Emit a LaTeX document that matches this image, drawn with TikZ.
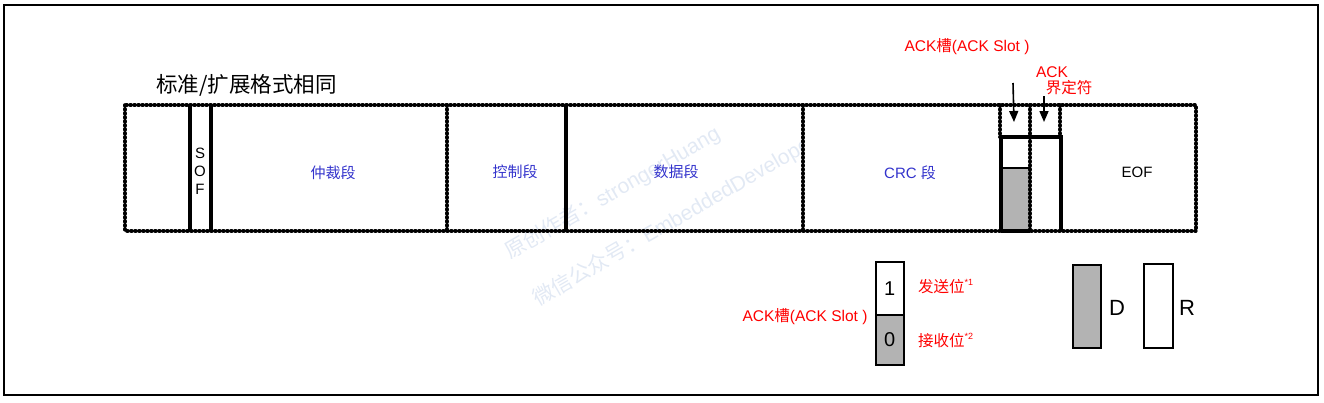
\documentclass[tikz,border=0pt]{standalone}
\usepackage{fontspec}
\setmainfont{Liberation Sans}
\newfontfamily\cjk{Noto Sans CJK SC}
\usetikzlibrary{arrows.meta}
\definecolor{lblblue}{RGB}{51,51,204}
\definecolor{ackgray}{RGB}{179,179,179}
\definecolor{wmark}{RGB}{226,233,244}
\begin{document}
\begin{tikzpicture}[x=1pt,y=-1pt,
  dotline/.style={line width=3.6pt, dash pattern=on 0.8pt off 3.2pt, line cap=round},
  solidbar/.style={line width=3.5pt},
  ackbar/.style={line width=4pt},
  fieldlbl/.style={inner sep=0pt, text=lblblue, font=\fontsize{15}{18}\selectfont},
  blacklbl/.style={inner sep=0pt, text=black, font=\fontsize{15}{18}\selectfont},
  redlbl/.style={inner sep=0pt, text=red, font=\fontsize{15.5}{18}\selectfont},
  wmtext/.style={inner sep=0pt, text=wmark, font=\fontsize{21}{24}\selectfont, rotate=30, anchor=base west},
  legbox/.style={draw=black, line width=1.5pt},
  arr/.style={line width=1.6pt, -{Triangle[length=11pt,width=9pt]}}
]
\useasboundingbox (0,0) rectangle (1324,402);
% outer frame
\draw[line width=1.8pt] (4,5) rectangle (1318,395);

% watermark
\node[wmtext] (wm1) at (510,260) {{\cjk 原创作者：}strongerHuang};
\node[wmtext] (wm2) at (538,307) {{\cjk 微信公众号：}EmbeddedDeveloper};
\fill[white] (803,105) rectangle (1000,231);

% ACK slot fill
\fill[ackgray] (1001,168) rectangle (1030,231);
\draw[line width=1.2pt] (1001,168) -- (1030,168);

% dotted frame
\draw[dotline] (125,105) rectangle (1196,231);
\draw[dotline] (447,105) -- (447,231);
\draw[dotline] (803,105) -- (803,231);
\draw[dotline] (1000,105) -- (1000,137);
\draw[dotline] (1030,105) -- (1030,231);
\draw[dotline] (1060,105) -- (1060,137);

% solid bars
\draw[solidbar] (190,105) -- (190,231);
\draw[solidbar] (211,105) -- (211,231);
\draw[solidbar] (566,105) -- (566,231);

% ACK thick box
\draw[ackbar] (1001,231) -- (1001,137) -- (1061,137) -- (1061,231);
\draw[ackbar] (1001,231) -- (1030,231);

% title
\node[inner sep=0pt, anchor=west, font=\cjk\fontsize{21.5}{24}\selectfont] (title) at (156,85) {标准/扩展格式相同};

% SOF
\node[blacklbl] (sofS) at (200,153) {S};
\node[blacklbl] (sofO) at (200,171) {O};
\node[blacklbl] (sofF) at (200,189) {F};

% field labels
\node[fieldlbl] (arb) at (333,173) {\cjk 仲裁段};
\node[fieldlbl] (ctrl) at (515,172) {\cjk 控制段};
\node[fieldlbl] (data) at (676,172) {\cjk 数据段};
\node[fieldlbl] (crc) at (910,173) {CRC {\cjk 段}};
\node[blacklbl] (eof) at (1137,172) {EOF};

% ACK labels and arrows
\node[redlbl] (acklbl) at (967,47) {ACK{\cjk 槽}(ACK Slot )};
\node[redlbl] (delimA) at (1052,72) {ACK};
\node[redlbl] (delimB) at (1069,88) {\cjk 界定符};
\coordinate (slotTop) at (1013,83);
\coordinate (slotTip) at (1014,122);
\coordinate (delTop) at (1044,96);
\coordinate (delTip) at (1044,122);
\draw[arr] (slotTop) -- (slotTip);
\draw[arr] (delTop) -- (delTip);

% legend: ACK slot bits
\node[legbox, fill=white, minimum width=28pt, minimum height=53pt, inner sep=0pt, anchor=north west] (bit1) at (875,261) {};
\node[legbox, fill=ackgray, minimum width=28pt, minimum height=50pt, inner sep=0pt, anchor=north west] (bit0) at (875,314) {};
\node[inner sep=0pt, font=\fontsize{20}{22}\selectfont] (one) at (bit1.center) {1};
\node[inner sep=0pt, font=\fontsize{20}{22}\selectfont] (zero) at (bit0.center) {0};
\node[redlbl, anchor=west] (send) at (918,287) {{\cjk 发送位}\raisebox{7pt}{\fontsize{9}{10}\selectfont *1}};
\node[redlbl, anchor=west] (recv) at (918,340) {{\cjk 接收位}\raisebox{7pt}{\fontsize{9}{10}\selectfont *2}};
\node[redlbl] (ackslot2) at (805,317) {ACK{\cjk 槽}(ACK Slot )};

% legend: D / R
\node[legbox, fill=ackgray, minimum width=28pt, minimum height=83pt, inner sep=0pt, anchor=north west] (dbox) at (1072,264) {};
\node[legbox, fill=white, minimum width=29pt, minimum height=84pt, inner sep=0pt, anchor=north west] (rbox) at (1143,263) {};
\node[inner sep=0pt, font=\fontsize{22}{24}\selectfont] (dlbl) at (1117,308) {D};
\node[inner sep=0pt, font=\fontsize{22}{24}\selectfont] (rlbl) at (1187,308) {R};
\end{tikzpicture}
\end{document}
